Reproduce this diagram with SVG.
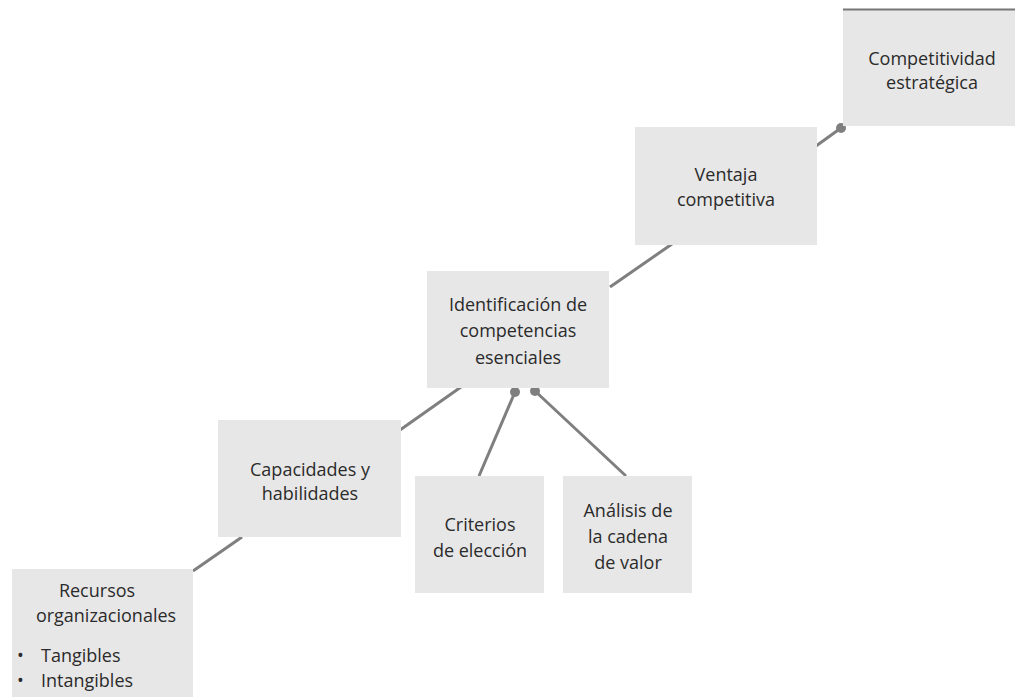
<svg xmlns="http://www.w3.org/2000/svg" width="1015" height="697" viewBox="0 0 1015 697">
<style>
.box{fill:#e7e7e7}
.t{font-family:"Open Sans","Liberation Sans",sans-serif;font-size:18px;fill:#2b2b2b;text-anchor:middle}
.l{text-anchor:start}
.c{stroke:#7f7f7f;stroke-width:3;fill:none}
.dot{fill:#7f7f7f}
</style>
<rect width="1015" height="697" fill="#ffffff"/>
<g id="connectors">
<line class="c" x1="841" y1="128" x2="816" y2="146"/>
<line class="c" x1="672" y1="244" x2="610" y2="287"/>
<line class="c" x1="461" y1="387" x2="400" y2="430"/>
<line class="c" x1="242" y1="537" x2="193" y2="571"/>
<line class="c" x1="515" y1="392" x2="479" y2="476"/>
<line class="c" x1="535" y1="391" x2="626" y2="476"/>
<circle class="dot" cx="841" cy="128" r="5"/>
<circle class="dot" cx="515" cy="392" r="5"/>
<circle class="dot" cx="535" cy="391" r="5"/>
</g>
<g id="competitividad">
<rect class="box" x="843" y="9" width="172" height="117"/>
<line x1="843" y1="9.5" x2="1015" y2="9.5" stroke="#777" stroke-width="2"/>
<text class="t" x="932" y="65">Competitividad</text>
<text class="t" x="932" y="89">estratégica</text>
</g>
<g id="ventaja">
<rect class="box" x="635" y="127" width="182" height="118"/>
<text class="t" x="726" y="181">Ventaja</text>
<text class="t" x="726" y="206">competitiva</text>
</g>
<g id="identificacion">
<rect class="box" x="427" y="271" width="182" height="117"/>
<text class="t" x="518" y="311">Identificación de</text>
<text class="t" x="518" y="337">competencias</text>
<text class="t" x="518" y="364">esenciales</text>
</g>
<g id="capacidades">
<rect class="box" x="218" y="420" width="183" height="117"/>
<text class="t" x="310" y="476">Capacidades y</text>
<text class="t" x="310" y="500">habilidades</text>
</g>
<g id="criterios">
<rect class="box" x="415" y="476" width="129" height="117"/>
<text class="t" x="480" y="531">Criterios</text>
<text class="t" x="480" y="557">de elección</text>
</g>
<g id="analisis">
<rect class="box" x="563" y="476" width="129" height="117"/>
<text class="t" x="628" y="517">Análisis de</text>
<text class="t" x="628" y="543">la cadena</text>
<text class="t" x="628" y="569">de valor</text>
</g>
<g id="recursos">
<rect class="box" x="12" y="569" width="181" height="128"/>
<text class="t" x="97" y="597">Recursos</text>
<text class="t" x="106" y="622">organizacionales</text>
<text class="t l" y="662"><tspan x="17">•</tspan><tspan x="41">Tangibles</tspan></text>
<text class="t l" y="687"><tspan x="17">•</tspan><tspan x="41">Intangibles</tspan></text>
</g>
</svg>
